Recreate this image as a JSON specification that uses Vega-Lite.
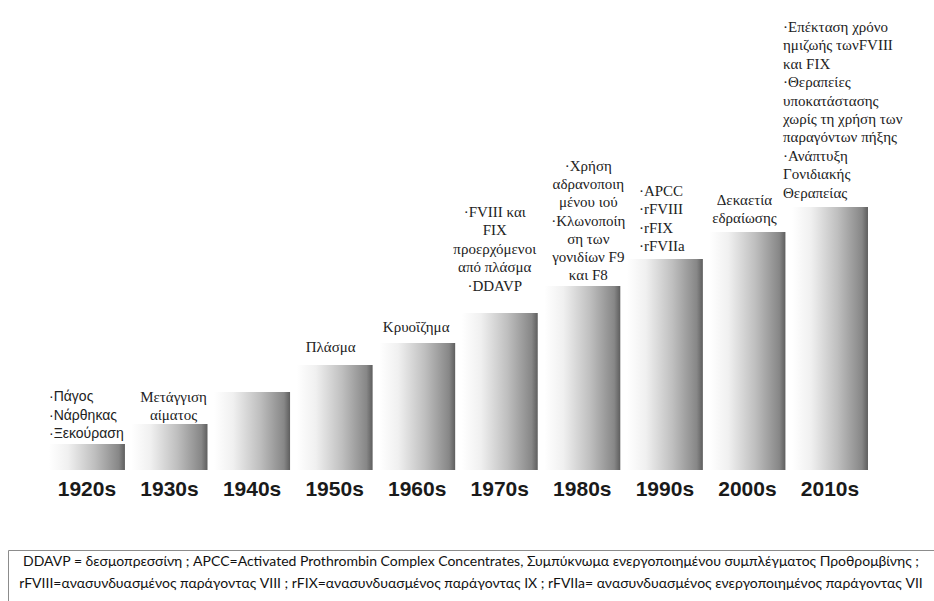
{
  "$schema": "https://vega.github.io/schema/vega-lite/v6.json",
  "padding": {"left": 7, "top": 0, "right": 0, "bottom": 0},
  "background": "white",
  "config": {"view": {"stroke": null}},
  "spacing": 50,
  "vconcat": [
    {
      "width": 926,
      "height": 470,
      "data": {"values": [
        {"decade": "1920s", "level": 26, "label": "·Πάγος\n·Νάρθηκας\n·Ξεκούραση"},
        {"decade": "1930s", "level": 46, "label": "Μετάγγιση\nαίματος"},
        {"decade": "1940s", "level": 78, "label": ""},
        {"decade": "1950s", "level": 105, "label": "Πλάσμα"},
        {"decade": "1960s", "level": 127, "label": "Κρυοΐζημα"},
        {"decade": "1970s", "level": 157, "label": "·FVIII και\nFIX\nπροερχόμενοι\nαπό πλάσμα\n·DDAVP"},
        {"decade": "1980s", "level": 184, "label": "·Χρήση\nαδρανοποιη\nμένου ιού\n·Κλωνοποίη\nση των\nγονιδίων F9\nκαι F8"},
        {"decade": "1990s", "level": 211, "label": "·APCC\n·rFVIII\n·rFIX\n·rFVIIa"},
        {"decade": "2000s", "level": 238, "label": "Δεκαετία\nεδραίωσης"},
        {"decade": "2010s", "level": 263, "label": "·Επέκταση χρόνο\nημιζωής τωνFVIII\nκαι FIX\n·Θεραπείες\nυποκατάστασης\nχωρίς τη χρήση των\nπαραγόντων πήξης\n·Ανάπτυξη\nΓονιδιακής\nΘεραπείας"}
      ]},
      "encoding": {
        "x": {
          "field": "decade", "type": "nominal", "sort": null,
          "scale": {"paddingInner": 0.08, "paddingOuter": 0.648, "align": 0.383},
          "axis": {"title": null, "domain": false, "ticks": false, "tickSize": 0, "labelPadding": 8,
                   "labelFont": "Liberation Sans", "labelFontWeight": "bold", "labelFontSize": 21,
                   "labelColor": "#1a1a1a", "labelAngle": 0}
        },
        "y": {
          "field": "level", "type": "quantitative",
          "scale": {"domain": [0, 470], "nice": false, "zero": true},
          "axis": null
        },
        "text": {"field": "label"}
      },
      "layer": [
        {
          "mark": {"type": "bar", "color": {
            "gradient": "linear", "x1": 0, "y1": 0, "x2": 1, "y2": 0,
            "stops": [
              {"offset": 0, "color": "#ffffff"},
              {"offset": 0.25, "color": "#f0f0f0"},
              {"offset": 0.6, "color": "#bfbfbf"},
              {"offset": 0.92, "color": "#878787"},
              {"offset": 1, "color": "#5e5e5e"}
            ]}}
        },
        {
          "transform": [{"filter": {"field": "decade", "equal": "1920s"}}],
          "mark": {"type": "text", "align": "left", "lineBreak": "\n", "lineHeight": 18.5,
                   "font": "Liberation Sans", "fontSize": 14, "color": "#222222", "dy": -47, "dx": 0},
          "encoding": {"x": {"field": "decade", "type": "nominal", "sort": null, "bandPosition": 0}}
        },
        {
          "transform": [{"filter": {"field": "decade", "equal": "1930s"}}],
          "mark": {"type": "text", "align": "center", "lineBreak": "\n", "lineHeight": 18.4,
                   "font": "Liberation Serif", "fontSize": 15, "color": "#222222", "dy": -27, "dx": 4}
        },
        {
          "transform": [{"filter": {"field": "decade", "equal": "1950s"}}],
          "mark": {"type": "text", "align": "center", "lineBreak": "\n", "lineHeight": 18.4,
                   "font": "Liberation Serif", "fontSize": 15, "color": "#222222", "dy": -18, "dx": -4}
        },
        {
          "transform": [{"filter": {"field": "decade", "equal": "1960s"}}],
          "mark": {"type": "text", "align": "center", "lineBreak": "\n", "lineHeight": 18.4,
                   "font": "Liberation Serif", "fontSize": 15, "color": "#222222", "dy": -16, "dx": -1}
        },
        {
          "transform": [{"filter": {"field": "decade", "equal": "1970s"}}],
          "mark": {"type": "text", "align": "center", "lineBreak": "\n", "lineHeight": 18.4,
                   "font": "Liberation Serif", "fontSize": 15, "color": "#222222", "dy": -101, "dx": -5}
        },
        {
          "transform": [{"filter": {"field": "decade", "equal": "1980s"}}],
          "mark": {"type": "text", "align": "center", "lineBreak": "\n", "lineHeight": 18.2,
                   "font": "Liberation Serif", "fontSize": 15, "color": "#222222", "dy": -120, "dx": 6}
        },
        {
          "transform": [{"filter": {"field": "decade", "equal": "1990s"}}],
          "mark": {"type": "text", "align": "left", "lineBreak": "\n", "lineHeight": 18.4,
                   "font": "Liberation Serif", "fontSize": 15, "color": "#222222", "dy": -68, "dx": 12},
          "encoding": {"x": {"field": "decade", "type": "nominal", "sort": null, "bandPosition": 0}}
        },
        {
          "transform": [{"filter": {"field": "decade", "equal": "2000s"}}],
          "mark": {"type": "text", "align": "center", "lineBreak": "\n", "lineHeight": 18.4,
                   "font": "Liberation Serif", "fontSize": 15, "color": "#222222", "dy": -32, "dx": -3}
        },
        {
          "transform": [{"filter": {"field": "decade", "equal": "2010s"}}],
          "mark": {"type": "text", "align": "left", "lineBreak": "\n", "lineHeight": 18.4,
                   "font": "Liberation Serif", "fontSize": 15, "color": "#222222", "dy": -180, "dx": -9},
          "encoding": {"x": {"field": "decade", "type": "nominal", "sort": null, "bandPosition": 0}}
        }
      ]
    },
    {
      "width": 926,
      "height": 56,
      "view": {"stroke": "#8c8c8c", "strokeWidth": 1},
      "data": {"values": [
        {"box": "note", "line": 1, "note": "DDAVP = δεσμοπρεσσίνη ; APCC=Activated  Prothrombin Complex Concentrates, Συμπύκνωμα ενεργοποιημένου  συμπλέγματος Προθρομβίνης ;"},
        {"box": "note", "line": 2, "note": "rFVIII=ανασυνδυασμένος παράγοντας VIII ; rFIX=ανασυνδυασμένος παράγοντας IX ; rFVIIa= ανασυνδυασμένος ενεργοποιημένος παράγοντας VII"}
      ]},
      "mark": {"type": "text", "align": "center", "baseline": "middle", "font": "Lato", "fontSize": 14, "color": "#111111"},
      "encoding": {
        "x": {"field": "box", "type": "nominal", "axis": null},
        "y": {"field": "line", "type": "ordinal", "axis": null, "scale": {"padding": 0.773, "align": 0.353}},
        "text": {"field": "note"}
      }
    }
  ]
}
